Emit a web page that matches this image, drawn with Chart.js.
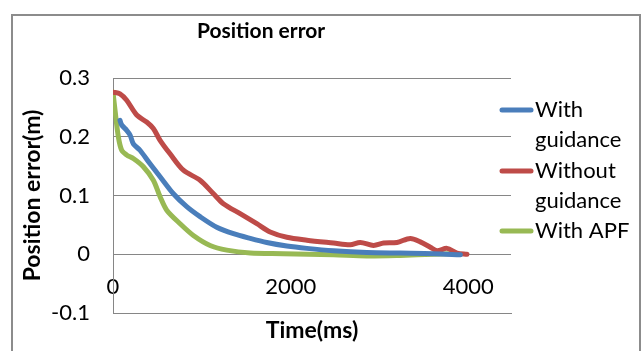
<!DOCTYPE html>
<html>
<head>
<meta charset="utf-8">
<script src="https://cdn.jsdelivr.net/npm/chart.js@4.4.1/dist/chart.umd.min.js"></script>
<style>
  html, body { margin: 0; padding: 0; background: #fff; }
  #wrap { width: 643px; height: 351px; position: relative; }
</style>
</head>
<body>
<div id="wrap"><canvas id="chart"></canvas></div>
<script>
// Data (time in ms, error in m)
const blueTime = [79, 98, 154, 192, 229, 304, 417, 530, 680, 830, 980, 1168, 1356, 1544, 1731, 1957, 2183, 2483, 2858, 3234, 3609, 3910];
const blueErr  = [0.228, 0.220, 0.211, 0.203, 0.188, 0.177, 0.154, 0.132, 0.103, 0.081, 0.064, 0.046, 0.035, 0.027, 0.020, 0.014, 0.010, 0.006, 0.003, 0.002, 0.001, -0.001];

const redTime = [0, 79, 154, 267, 379, 454, 530, 642, 792, 980, 1131, 1243, 1431, 1619, 1769, 1957, 2183, 2483, 2670, 2783, 2933, 3046, 3196, 3346, 3459, 3572, 3647, 3760, 3873, 3985];
const redErr  = [0.276, 0.273, 0.262, 0.237, 0.225, 0.214, 0.194, 0.171, 0.143, 0.126, 0.103, 0.086, 0.069, 0.052, 0.038, 0.029, 0.024, 0.019, 0.016, 0.020, 0.015, 0.019, 0.020, 0.027, 0.021, 0.012, 0.006, 0.010, 0.002, 0.000];

const greenTime = [0, 23, 60, 98, 154, 229, 342, 454, 530, 605, 755, 905, 1093, 1281, 1544, 1919, 2483, 2858, 3234, 3609, 3797];
const greenErr  = [0.276, 0.245, 0.200, 0.177, 0.169, 0.163, 0.149, 0.126, 0.098, 0.075, 0.052, 0.032, 0.015, 0.007, 0.002, 0.001, -0.001, -0.003, -0.002, 0.000, 0.001];

const seriesLabels = [["With", "guidance"], ["Without", "guidance"], ["With APF"]];
const seriesColors = ["#4a7ebb", "#be4b48", "#98b954"];

const yTicks = [-0.1, 0, 0.1, 0.2, 0.3];
const xTicks = [0, 2000, 4000];

const FONT = "Lato, 'Open Sans', sans-serif";

function toPoints(xs, ys) {
  return xs.map((x, i) => ({ x: x, y: ys[i] }));
}

// frame, title and the two-line legend are drawn by hand
const decor = {
  id: "decor",
  beforeDraw(chart) {
    const c = chart.ctx;
    c.save();
    c.strokeStyle = "#8c8c8c";
    c.lineWidth = 2;
    c.strokeRect(12, 15, 628, 400);
    c.restore();
  },
  afterDraw(chart) {
    const c = chart.ctx;
    c.save();
    c.fillStyle = "#000";
    c.font = "bold 21px " + FONT;
    c.textAlign = "center";
    c.textBaseline = "middle";
    c.fillText("Position error", 261, 31);

    // legend
    const rows = [110, 171, 231];
    c.font = "22px " + FONT;
    c.textAlign = "left";
    chart.data.datasets.forEach((ds, i) => {
      const y = rows[i];
      c.strokeStyle = ds.borderColor;
      c.lineWidth = 5;
      c.lineCap = "round";
      c.beginPath();
      c.moveTo(502, y);
      c.lineTo(531, y);
      c.stroke();
      seriesLabels[i].forEach((t, k) => c.fillText(t, 535, y + k * 30));
    });
    c.restore();
  }
};

new Chart(document.getElementById("chart"), {
  type: "line",
  data: {
    datasets: [
      { label: "With guidance", data: toPoints(blueTime, blueErr), borderColor: seriesColors[0] },
      { label: "Without guidance", data: toPoints(redTime, redErr), borderColor: seriesColors[1] },
      { label: "With APF", data: toPoints(greenTime, greenErr), borderColor: seriesColors[2] }
    ].map(d => Object.assign(d, {
      borderWidth: 5,
      pointRadius: 0,
      tension: 0.3,
      borderCapStyle: "round",
      borderJoinStyle: "round",
      fill: false
    }))
  },
  plugins: [decor],
  options: {
    responsive: true,
    maintainAspectRatio: false,
    animation: false,
    layout: { padding: { left: 0, top: 78, right: 132, bottom: 7 } },
    plugins: {
      legend: { display: false },
      tooltip: { enabled: false }
    },
    scales: {
      x: {
        type: "linear",
        min: 0,
        max: 4480,
        afterFit: s => { s.height = 31; },
        afterBuildTicks: s => { s.ticks = xTicks.map(v => ({ value: v })); },
        grid: { display: false, drawTicks: false },
        border: { display: true, color: "#868686", width: 1 },
        ticks: {
          includeBounds: false,
          mirror: true,
          padding: 13,
          color: "#000",
          font: { family: FONT, size: 22 },
          maxRotation: 0,
          callback: v => String(v)
        },
        title: {
          display: true,
          text: "Time(ms)",
          color: "#000",
          font: { family: FONT, size: 23, weight: "bold" },
          padding: 0
        }
      },
      y: {
        min: -0.1,
        max: 0.3,
        afterFit: s => { s.width = 113; },
        afterBuildTicks: s => { s.ticks = yTicks.map(v => ({ value: v })); },
        grid: { color: "#868686", lineWidth: 1, drawTicks: false },
        border: { display: true, color: "#868686", width: 1 },
        ticks: {
          padding: 23,
          color: "#000",
          font: { family: FONT, size: 22 },
          callback: v => String(Math.round(v * 10) / 10)
        },
        title: {
          display: true,
          text: "Position error(m)",
          color: "#000",
          font: { family: FONT, size: 23, weight: "bold" },
          padding: { top: 19, bottom: 0 }
        }
      }
    }
  }
});
</script>
</body>
</html>
